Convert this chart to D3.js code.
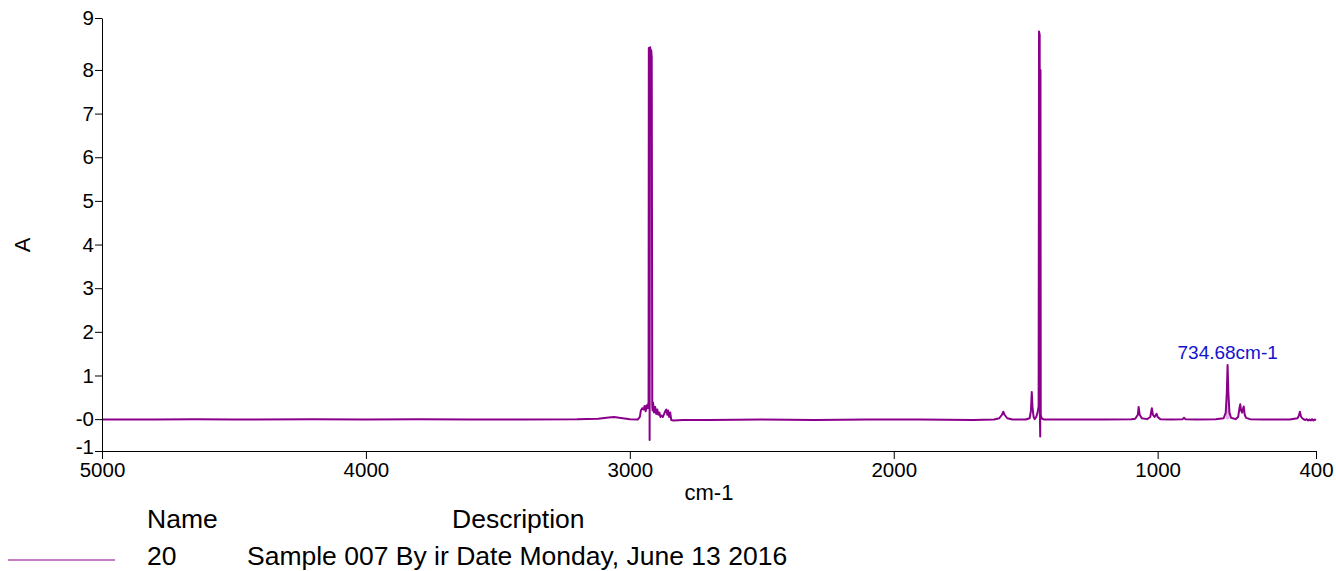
<!DOCTYPE html>
<html>
<head>
<meta charset="utf-8">
<script src="https://cdn.jsdelivr.net/npm/d3@7/dist/d3.min.js"></script>
<style>
  html, body { margin: 0; padding: 0; background: #fff; }
  svg { display: block; font-family: "Liberation Sans", Arial, sans-serif; }
</style>
</head>
<body>
<svg id="chart" width="1336" height="571"></svg>
<script>
// ---- data ----
const wavenumbers = [
  5000, 4800, 4650, 4500, 4200, 4000, 3800, 3600, 3400, 3200, 3120, 3080, 3060, 3040, 3000, 2970,
  2962, 2958, 2953, 2948, 2944, 2940, 2936, 2932, 2929, 2928, 2926, 2925, 2924, 2923, 2921, 2919, 2917, 2915,
  2914, 2912, 2908, 2904, 2900, 2896, 2892, 2888, 2884, 2880, 2875, 2870, 2866, 2862, 2858, 2855, 2851, 2847, 2843, 2835,
  2800, 2700, 2500, 2300, 2100, 1900, 1700, 1620, 1600, 1590, 1585, 1580, 1570, 1550, 1500,
  1485, 1480, 1477, 1474, 1470, 1466, 1460, 1455, 1451, 1449.5, 1447, 1446, 1445, 1444, 1443, 1440, 1430,
  1300, 1200, 1100, 1085, 1075, 1072, 1068, 1060, 1040, 1028, 1022, 1018, 1012, 1004, 1000, 990, 950,
  905, 900, 895, 850, 780, 750, 742, 738, 735, 732, 728, 722, 705, 695, 690, 687, 684, 680, 674, 670, 665, 650,
  600, 550, 500, 470, 465, 461, 457, 452, 445, 440, 435, 430, 425, 420, 415, 410, 405, 400
];
const absorbance = [
  -0.01, -0.01, -0.005, -0.01, -0.005, -0.01, -0.005, -0.01, -0.01, -0.005, 0.01, 0.04, 0.05, 0.03, 0.0, -0.01,
  0.05, 0.2, 0.25, 0.22, 0.3, 0.18, 0.32, 0.25, 0.4, 8.5, 8.45, -0.48, 8.48, 8.52, 8.4, 8.45, 8.3, 0.3,
  0.2, 0.38, 0.15, 0.28, 0.12, 0.22, 0.1, 0.15, 0.05, 0.08, 0.05, 0.12, 0.18, 0.22, 0.1, 0.2, 0.05, 0.15, -0.02, -0.03,
  -0.02, -0.02, -0.01, -0.02, -0.01, -0.01, -0.02, -0.01, 0.02, 0.1, 0.17, 0.1, 0.02, -0.01, -0.01,
  0.02, 0.2, 0.62, 0.25, 0.05, 0.0, 0.05, 0.15, 0.3, 8.88, 8.8, 0.0, -0.40, 8.0, 0.1, 0.02, -0.01,
  -0.01, -0.01, 0.0, 0.01, 0.1, 0.28, 0.1, 0.02, 0.0, 0.05, 0.25, 0.1, 0.05, 0.12, 0.05, 0.0, -0.01,
  0.0, 0.03, 0.0, -0.01, 0.0, 0.02, 0.15, 0.6, 1.24, 0.6, 0.15, 0.03, 0.0, 0.05, 0.25, 0.34, 0.2, 0.15, 0.29, 0.1, 0.03, 0.0,
  -0.01, -0.01, -0.01, 0.02, 0.08, 0.17, 0.06, 0.02, -0.01, -0.02, 0.0, -0.03, -0.01, -0.03, 0.0, -0.03, -0.01, -0.02
];
const xTickValues = [5000, 4000, 3000, 2000, 1000, 400];
const xTickLabels = ["5000", "4000", "3000", "2000", "1000", "400"];
const yTickValues = [-0.73, 0, 1, 2, 3, 4, 5, 6, 7, 8, 9.19];
const yTickLabels = ["-1", "-0", "1", "2", "3", "4", "5", "6", "7", "8", "9"];
const peakLabel = { wavenumber: 734.68, absorbance: 1.24, text: "734.68cm-1" };
const peakFillRange = [742, 727];
const legendHeader = ["Name", "Description"];
const legendRow = ["20", "Sample 007 By ir Date Monday, June 13 2016"];

// ---- layout ----
const plot = { left: 102, right: 1316, top: 18, bottom: 451 };
const lineColor = "#8b008b";

const svg = d3.select("#chart");
const x = d3.scaleLinear().domain([5000, 400]).range([plot.left, plot.right]);
const y = d3.scaleLinear().domain([yTickValues[0], yTickValues[yTickValues.length - 1]]).range([plot.bottom, plot.top]);

const data = wavenumbers.map((w, i) => ({ w, a: absorbance[i] }));

// peak shading
const peakData = data.filter(d => d.w <= peakFillRange[0] && d.w >= peakFillRange[1]);
svg.append("path")
  .datum(peakData)
  .attr("fill", "#e3b3e3")
  .attr("d", d3.area().x(d => x(d.w)).y0(y(0)).y1(d => y(d.a)));

// spectrum
svg.append("path")
  .datum(data)
  .attr("fill", "none")
  .attr("stroke", lineColor)
  .attr("stroke-width", 2)
  .attr("stroke-linejoin", "round")
  .attr("d", d3.line().x(d => x(d.w)).y(d => y(d.a)));

// axes
const xAxis = d3.axisBottom(x)
  .tickValues(xTickValues)
  .tickFormat((d, i) => xTickLabels[i])
  .tickSize(8).tickPadding(3).tickSizeOuter(0);
const gx = svg.append("g").attr("transform", `translate(0,${plot.bottom})`).call(xAxis);

const yAxis = d3.axisLeft(y)
  .tickValues(yTickValues)
  .tickFormat((d, i) => yTickLabels[i])
  .tickSize(7).tickPadding(1).tickSizeOuter(0);
const gy = svg.append("g").attr("transform", `translate(${plot.left},0)`).call(yAxis);

[gx, gy].forEach(g => {
  g.select(".domain").attr("stroke", "#000").attr("stroke-width", 1);
  g.selectAll(".tick line").attr("stroke", "#000");
  g.selectAll(".tick text").attr("fill", "#000").style("font-size", "20.5px")
    .style("font-family", '"Liberation Sans", Arial, sans-serif');
});
// lift the bottom-end label a little, as in the reference
gy.selectAll(".tick text").filter((d, i) => i === 0).attr("dy", "0.12em");

// axis titles
svg.append("text")
  .attr("x", (plot.left + plot.right) / 2).attr("y", 500)
  .attr("text-anchor", "middle").style("font-size", "22px").text("cm-1");
svg.append("text")
  .attr("transform", `translate(30,245) rotate(-90)`)
  .attr("text-anchor", "middle").style("font-size", "22px").text("A");

// peak label
svg.append("text")
  .attr("x", x(peakLabel.wavenumber)).attr("y", y(peakLabel.absorbance) - 6)
  .attr("text-anchor", "middle").attr("fill", "#1212d0")
  .style("font-size", "19px").text(peakLabel.text);

// legend
const lf = "26.5px";
svg.append("text").attr("x", 147).attr("y", 528).style("font-size", lf).text(legendHeader[0]);
svg.append("text").attr("x", 452).attr("y", 528).style("font-size", lf).text(legendHeader[1]);
svg.append("line").attr("x1", 8).attr("x2", 115).attr("y1", 560).attr("y2", 560)
  .attr("stroke", "#c47ec4").attr("stroke-width", 2);
svg.append("text").attr("x", 147).attr("y", 565).style("font-size", lf).text(legendRow[0]);
svg.append("text").attr("x", 247).attr("y", 565).style("font-size", lf).text(legendRow[1]);
</script>
</body>
</html>
